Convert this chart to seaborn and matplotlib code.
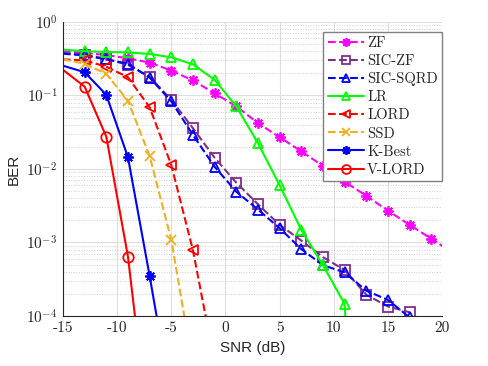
import math
import matplotlib
matplotlib.use("Agg")
import matplotlib.pyplot as plt
from matplotlib.ticker import FixedLocator, FuncFormatter, LogLocator, NullFormatter
import seaborn as sns

# SNR points (dB), odd values; first point at -15 carries no marker
snr = [-15, -13, -11, -9, -7, -5, -3, -1, 1, 3, 5, 7, 9, 11, 13, 15, 17, 19, 21]

ber_zf = [0.40, 0.38, 0.355, 0.32, 0.28, 0.218, 0.16, 0.107, 0.071, 0.042, 0.027,
          0.0173, 0.011, 0.0067, 0.0043, 0.0027, 0.00173, 0.00112, 0.00072]
ber_sic_zf = [0.38, 0.36, 0.315, 0.26, 0.18, 0.087, 0.0358, 0.0142, 0.0065, 0.0033,
              0.00173, 0.00106, 0.00063, 0.00042, 0.000194, 0.000134, 0.000112]
ber_sic_sqrd = [0.37, 0.35, 0.31, 0.27, 0.175, 0.083, 0.029, 0.0107, 0.0049, 0.0028,
                0.00156, 0.00081, 0.00049, 0.00039, 0.00022, 0.000165, 0.000095]
ber_lr = [0.42, 0.40, 0.39, 0.385, 0.367, 0.33, 0.265, 0.163, 0.071, 0.0224, 0.006,
          0.00148, 0.00049, 0.000145, 1e-9]
ber_lord = [0.31, 0.30, 0.246, 0.177, 0.069, 0.0113, 0.00078, 2.3e-5]
ber_ssd = [0.31, 0.27, 0.196, 0.085, 0.015, 0.00108, 2e-5]
ber_kbest = [0.254, 0.207, 0.102, 0.0144, 0.00035, 7e-6]
ber_vlord = [0.223, 0.132, 0.0275, 0.00064, 2e-6]

x_ticks = [-15, -10, -5, 0, 5, 10, 15, 20]

series = [
    ("ZF", ber_zf, "#FF00FF", "--", (8, 2, 0)),
    ("SIC-ZF", ber_sic_zf, "#7E2F8E", "--", "s"),
    ("SIC-SQRD", ber_sic_sqrd, "#0000FF", "--", "^"),
    ("LR", ber_lr, "#00FF00", "-", "^"),
    ("LORD", ber_lord, "#FF0000", "--", "<"),
    ("SSD", ber_ssd, "#EDB120", "--", "x"),
    ("K-Best", ber_kbest, "#0000FF", "-", (8, 2, 0)),
    ("V-LORD", ber_vlord, "#FF0000", "-", "o"),
]

sns.set_style("white")
plt.rcParams["mathtext.fontset"] = "cm"
plt.rcParams["axes.unicode_minus"] = False

fig, ax = plt.subplots(figsize=(4.88, 3.66), dpi=100)
fig.subplots_adjust(left=0.129, right=0.906, top=0.940, bottom=0.137)

for name, ber, color, ls, marker in series:
    sns.lineplot(x=snr[:len(ber)], y=ber, ax=ax, label=name, color=color,
                 linestyle=ls, linewidth=1.5, marker=marker, markersize=7.5,
                 markerfacecolor="none", markeredgecolor=color,
                 markeredgewidth=1.3, markevery=slice(1, None),
                 sort=False, estimator=None)

ax.set_yscale("log")
ax.set_xlim(-15, 20)
ax.set_ylim(1e-4, 1)

ax.xaxis.set_major_locator(FixedLocator(x_ticks))
ax.xaxis.set_major_formatter(FuncFormatter(lambda v, p: f"{int(round(v))}"))
ax.yaxis.set_major_locator(LogLocator(base=10, numticks=10))
ax.yaxis.set_minor_locator(LogLocator(base=10, subs=range(2, 10), numticks=10))
ax.yaxis.set_major_formatter(FuncFormatter(lambda v, p: r"$10^{%d}$" % round(math.log10(v))))
ax.yaxis.set_minor_formatter(NullFormatter())

for lab in ax.get_xticklabels():
    lab.set_fontfamily("cmr10")
ax.tick_params(axis="both", which="major", direction="in", length=3.5,
               labelsize=11, color="#262626", labelcolor="#262626", pad=4)
ax.tick_params(axis="y", which="minor", direction="in", length=2, color="#262626")

ax.grid(True, which="major", color="#dedede", linewidth=0.8, linestyle="-")
ax.grid(True, which="minor", axis="y", color="#cfcfcf", linewidth=0.7, linestyle=":")
ax.set_axisbelow(True)

for side in ["top", "right"]:
    ax.spines[side].set_visible(False)
for side in ["left", "bottom"]:
    ax.spines[side].set_color("#262626")
    ax.spines[side].set_linewidth(0.8)

ax.set_xlabel("SNR (dB)", fontsize=11, family="Liberation Sans", color="#262626")
ax.set_ylabel("BER", fontsize=11, family="Liberation Sans", color="#262626")

leg = ax.legend(loc="upper right", bbox_to_anchor=(1.0, 0.967),
                prop={"family": "cmr10", "size": 10.5}, markerscale=0.85,
                frameon=True, fancybox=False, edgecolor="#808080", framealpha=1,
                handlelength=2.5, labelspacing=0.3, borderpad=0.3, handletextpad=0.2,
                borderaxespad=0.0)
leg.get_frame().set_linewidth(1.0)

fig.savefig("out.png", dpi=100)
